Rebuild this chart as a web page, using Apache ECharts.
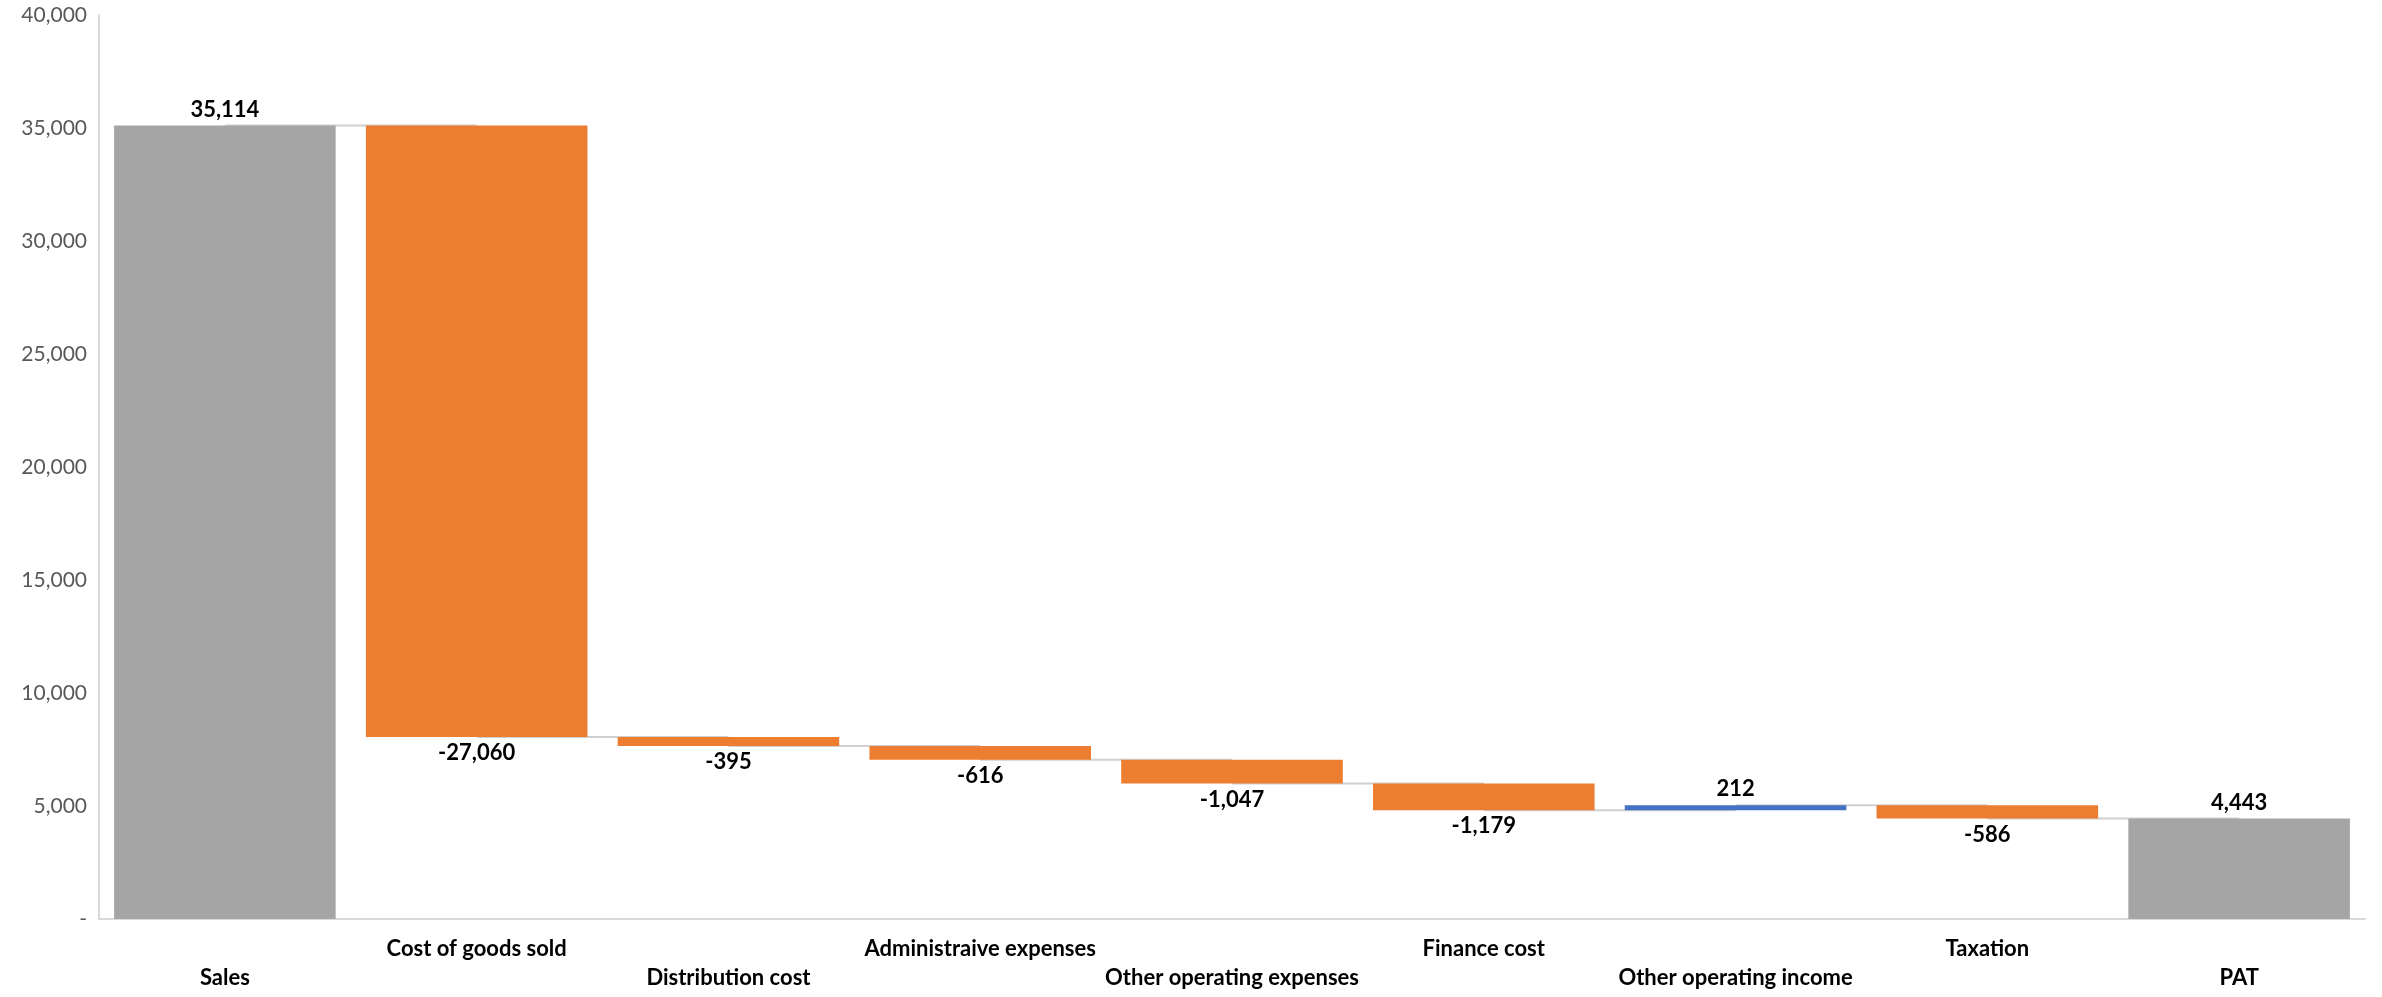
<!DOCTYPE html>
<html>
<head>
<meta charset="utf-8">
<script src="https://cdn.jsdelivr.net/npm/echarts@6/dist/echarts.min.js"></script>
<style>
html,body{margin:0;padding:0;background:#fff;}
#chart{width:2382px;height:997px;}
</style>
</head>
<body>
<div id="chart"></div>
<script>
const categories = ['Sales','Cost of goods sold','Distribution cost','Administraive expenses','Other operating expenses','Finance cost','Other operating income','Taxation','PAT'];
const values = [35114, -27060, -395, -616, -1047, -1179, 212, -586, 4443];
const isTotal = [true, false, false, false, false, false, false, false, true];
const yTicks = { min: 0, max: 40000, interval: 5000 };

const COLORS = { total: '#A5A5A5', neg: '#ED7D31', pos: '#4472C4' };

// derive waterfall bases and running levels
const base = [], height = [], level = [];
let run = 0;
values.forEach((v, i) => {
  if (isTotal[i]) { base.push(0); height.push(v); run = v; }
  else {
    const next = run + v;
    base.push(Math.min(run, next));
    height.push(Math.abs(v));
    run = next;
  }
  level.push(run);
});

const fmt = n => n.toLocaleString('en-US');
const font = 'Lato, "Open Sans", sans-serif';

const chart = echarts.init(document.getElementById('chart'));
chart.setOption({
  animation: false,
  grid: { left: 99, right: 17, top: 15, bottom: 78 },
  xAxis: {
    type: 'category',
    data: categories,
    axisLine: { lineStyle: { color: '#D9D9D9', width: 2 } },
    axisTick: { show: false },
    axisLabel: {
      interval: 0,
      margin: 15,
      color: '#000',
      fontFamily: font,
      fontWeight: 'bold',
      fontSize: 22,
      lineHeight: 29,
      formatter: (v, i) => (i % 2 === 0 ? '\n' + v : v)
    }
  },
  yAxis: {
    type: 'value',
    min: yTicks.min, max: yTicks.max, interval: yTicks.interval,
    axisLine: { show: true, lineStyle: { color: '#D9D9D9', width: 2 } },
    axisTick: { show: false },
    splitLine: { show: false },
    axisLabel: {
      margin: 12,
      color: '#595959',
      fontFamily: font,
      fontSize: 21,
      formatter: v => (v === 0 ? '-' : fmt(v))
    }
  },
  series: [
    {
      type: 'custom',
      z: 1,
      renderItem: (params, api) => {
        const i = api.value(0);
        if (i >= categories.length - 1) return null;
        const p1 = api.coord([i, api.value(1)]);
        const p2 = api.coord([i + 1, api.value(1)]);
        return {
          type: 'line',
          shape: { x1: p1[0], y1: p1[1], x2: p2[0], y2: p2[1] },
          style: { stroke: '#D0D0D0', lineWidth: 2 }
        };
      },
      data: level.map((l, i) => [i, l]),
      encode: { x: 0, y: 1 },
      silent: true
    },
    {
      type: 'bar',
      stack: 'wf',
      z: 2,
      barWidth: '88%',
      itemStyle: { color: 'transparent' },
      data: base,
      silent: true
    },
    {
      type: 'bar',
      stack: 'wf',
      z: 2,
      barWidth: '88%',
      data: height.map((h, i) => ({
        value: h,
        itemStyle: { color: isTotal[i] ? COLORS.total : (values[i] < 0 ? COLORS.neg : COLORS.pos) },
        label: {
          show: true,
          position: values[i] < 0 ? 'bottom' : 'top',
          distance: 5,
          formatter: () => fmt(values[i]),
          color: '#000',
          fontFamily: font,
          fontWeight: 'bold',
          fontSize: 22
        }
      }))
    }
  ]
});
</script>
</body>
</html>
